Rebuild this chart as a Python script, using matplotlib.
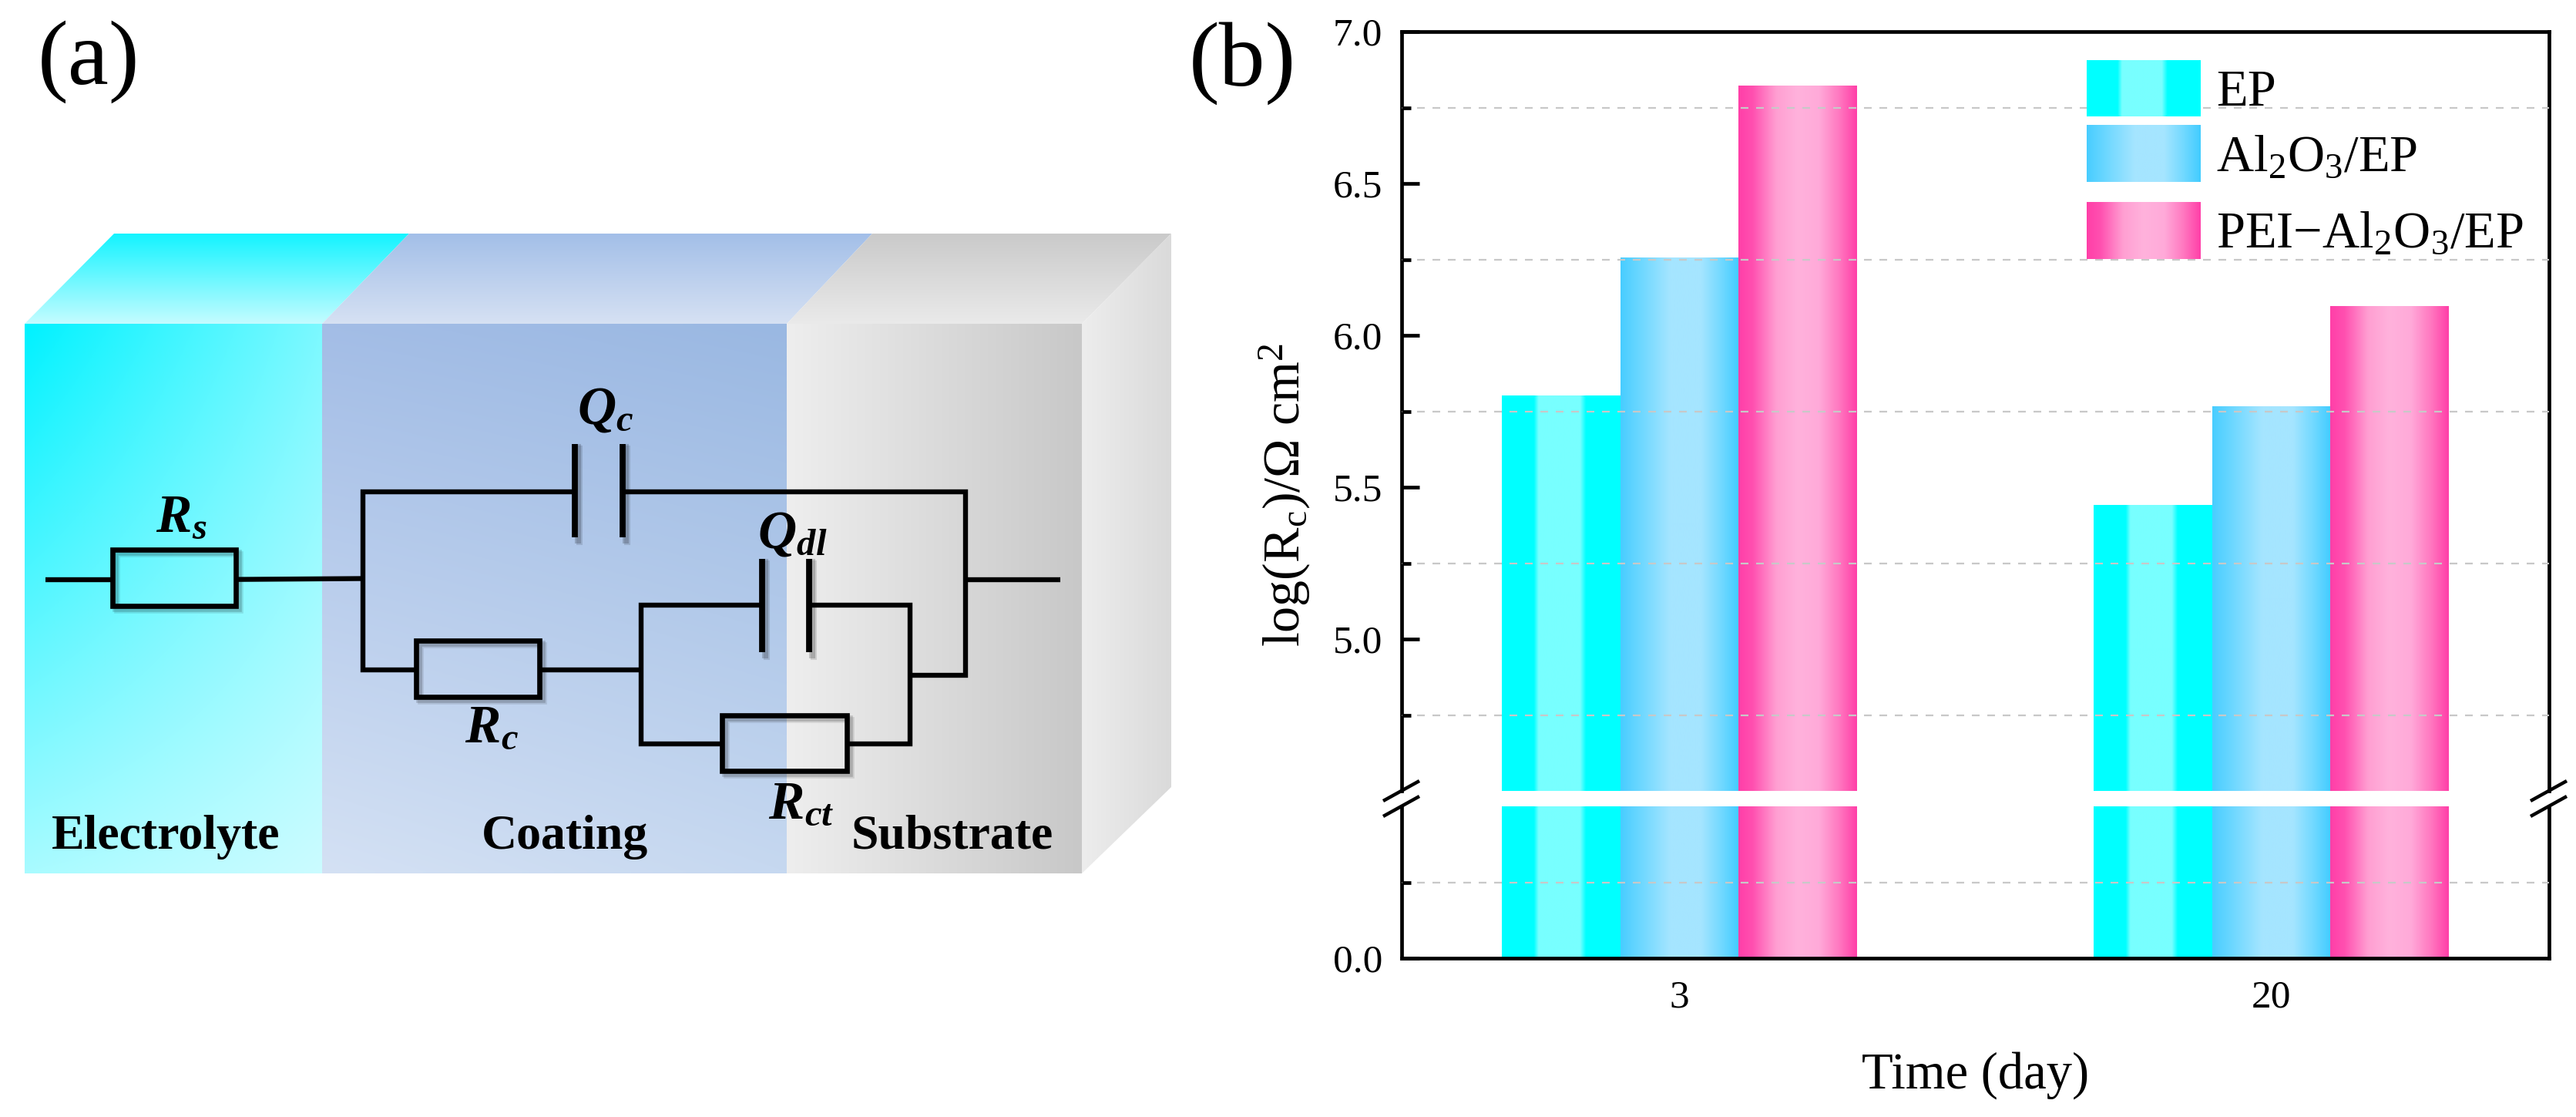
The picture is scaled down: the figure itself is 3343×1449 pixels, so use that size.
import numpy as np
import matplotlib
matplotlib.use('Agg')
import matplotlib.pyplot as plt
from matplotlib.patches import Polygon, Rectangle
from matplotlib.colors import LinearSegmentedColormap
from matplotlib.transforms import Affine2D
from matplotlib.ticker import FixedLocator

# ---------- data ----------
days = ['3', '20']
series = ['EP', r'Al$_2$O$_3$/EP', r'PEI$-$Al$_2$O$_3$/EP']
ep = [5.80, 5.44]
al2o3_ep = [6.255, 5.765]
pei_al2o3_ep = [6.82, 6.095]
major_upper = [5.0, 5.5, 6.0, 6.5, 7.0]
minor_upper = [4.75, 5.25, 5.75, 6.25, 6.75]
major_lower = [0.0]
minor_lower = [0.25]

W, H = 3343, 1449
plt.rcParams['font.family'] = ['Liberation Serif', 'DejaVu Serif']
plt.rcParams['mathtext.fontset'] = 'custom'
plt.rcParams['mathtext.rm'] = 'Liberation Serif'
plt.rcParams['mathtext.it'] = 'Liberation Serif:italic'
plt.rcParams['mathtext.bf'] = 'Liberation Serif:bold'
plt.rcParams['mathtext.bfit'] = 'Liberation Serif:italic:bold'
plt.rcParams['mathtext.default'] = 'regular'

fig = plt.figure(figsize=(W / 100, H / 100), dpi=100, facecolor='white')
PX = Affine2D().scale(1 / W, -1 / H).translate(0, 1) + fig.transFigure


def axes_px(l, t, r, b, **kw):
    return fig.add_axes([l / W, 1 - b / H, (r - l) / W, (b - t) / H], **kw)


# ---------- panel (a): schematic, in pixel coordinates ----------
sch = axes_px(0, 0, W, H, zorder=0)
sch.set_xlim(0, W)
sch.set_ylim(H, 0)
sch.axis('off')


def hexrgb(c):
    return np.array(matplotlib.colors.to_rgb(c))


def shade(poly, tl, tr, bl, br):
    """Polygon filled with a four-corner colour blend."""
    xs = [p[0] for p in poly]
    ys = [p[1] for p in poly]
    u, v = np.meshgrid(np.linspace(0, 1, 128), np.linspace(0, 1, 128))
    u, v = u[..., None], v[..., None]
    img = (hexrgb(tl) * (1 - u) * (1 - v) + hexrgb(tr) * u * (1 - v)
           + hexrgb(bl) * (1 - u) * v + hexrgb(br) * u * v)
    im = sch.imshow(img, extent=[min(xs), max(xs), max(ys), min(ys)],
                    aspect='auto', zorder=1, interpolation='bilinear')
    pg = Polygon(poly, closed=True, transform=sch.transData, fc='none', ec='none')
    sch.add_patch(pg)
    im.set_clip_path(pg)


x0, x1, x2, x3 = 32, 418, 1021, 1404
xb0, xb1, xb2, xb3 = 148, 531, 1132, 1520
yt, yb, yback, yback_b = 420, 1133, 303, 1021
shade([(x0, yt), (x1, yt), (x1, yb), (x0, yb)], '#00F2FF', '#7CF9FF', '#A8FBFF', '#CBFCFF')
shade([(x1, yt), (x2, yt), (x2, yb), (x1, yb)], '#A3BDE6', '#9AB8E2', '#D4E1F4', '#C6D8F0')
shade([(x2, yt), (x3, yt), (x3, yb), (x2, yb)], '#EEEEEE', '#C8C8C8', '#EEEEEE', '#C8C8C8')
shade([(x0, yt), (xb0, yback), (xb1, yback), (x1, yt)], '#14F4FF', '#14F4FF', '#C4FCFF', '#C4FCFF')
shade([(x1, yt), (xb1, yback), (xb2, yback), (x2, yt)], '#A3BFE8', '#A3BFE8', '#D6E1F3', '#D6E1F3')
shade([(x2, yt), (xb2, yback), (xb3, yback), (x3, yt)], '#CACACA', '#CACACA', '#EAEAEA', '#EAEAEA')
shade([(x3, yt), (xb3, yback), (xb3, yback_b), (x3, yb)], '#EDEDED', '#DADADA', '#EDEDED', '#DADADA')


def X(v):
    return v * 1550 / 1568


def Y(v):
    return 250 + v * 900 / 1568


wires = [
    [(60, 874), (148, 874)],
    [(310, 874), (476, 872)],
    [(755, 676), (476, 676), (476, 1078), (546, 1078)],
    [(817, 676), (1268, 676), (1268, 1090), (1195, 1090)],
    [(1268, 874), (1392, 874)],
    [(708, 1078), (842, 1078)],
    [(1000, 932), (842, 932), (842, 1245), (948, 1245)],
    [(1062, 932), (1195, 932), (1195, 1245), (1112, 1245)],
]
plates = [
    [(755, 568), (755, 778)], [(817, 568), (817, 778)],
    [(1000, 828), (1000, 1038)], [(1062, 828), (1062, 1038)],
]
resistors = [(148, 806, 310, 934), (546, 1013, 708, 1140), (948, 1181, 1112, 1306)]


def seg(points, lw, **kw):
    sch.plot([X(p[0]) for p in points], [Y(p[1]) for p in points], color=kw.pop('color', 'black'),
             lw=lw, solid_capstyle='butt', solid_joinstyle='miter', zorder=kw.pop('zorder', 4), **kw)


for p in plates:
    for off, a in ((6, .12), (4, .18)):
        sch.plot([X(q[0]) + off for q in p], [Y(q[1]) + off for q in p], color='black',
                 alpha=a, lw=5.8, zorder=3)
for r in resistors:
    l, t, rr, b = X(r[0]), Y(r[1]), X(r[2]), Y(r[3])
    for off, a in ((6, .10), (4, .16)):
        sch.add_patch(Rectangle((l + off, t + off), rr - l, b - t, fc='none', ec='black',
                                alpha=a, lw=5.5, zorder=3))
    sch.add_patch(Rectangle((l, t), rr - l, b - t, fc='none', ec='black', lw=4.8, zorder=4))
for w in wires:
    seg(w, 4.6)
for p in plates:
    seg(p, 5.6)

for (tx, ty, s) in [(238, 736, r'$\mathbfit{R}_{\mathbfit{s}}$'),
                    (795, 493, r'$\mathbfit{Q}_{\mathbfit{c}}$'),
                    (1040, 773, r'$\mathbfit{Q}_{\mathbfit{dl}}$'),
                    (645, 1212, r'$\mathbfit{R}_{\mathbfit{c}}$'),
                    (1052, 1385, r'$\mathbfit{R}_{\mathbfit{ct}}$')]:
    sch.text(X(tx), Y(ty), s, fontsize=50, ha='center', va='center', zorder=5)
for (tx, s) in [(218, 'Electrolyte'), (742, 'Coating'), (1250, 'Substrate')]:
    sch.text(X(tx), Y(1482), s, fontsize=46, fontweight='bold', ha='center', va='baseline', zorder=5)

fig.text(115, 80, '(a)', transform=PX, fontsize=86, ha='center', va='center')
fig.text(1612, 82, '(b)', transform=PX, fontsize=86, ha='center', va='center')

# ---------- panel (b): broken-axis bar chart ----------
LEFT, RIGHT, TOP, BOTTOM = 1819, 3308, 41, 1243
BREAK_T, BREAK_B = 1026, 1046
up = axes_px(LEFT, TOP, RIGHT, BREAK_T, zorder=2)
lo = axes_px(LEFT, BREAK_B, RIGHT, BOTTOM, zorder=2)

cmaps = [
    LinearSegmentedColormap.from_list('ep', [(0, '#00FFFF'), (.27, '#00FFFF'), (.31, '#78FFFF'), (.66, '#78FFFF'),
                                             (.71, '#00FFFF'), (1, '#00FFFF')]),
    LinearSegmentedColormap.from_list('al', [(0, '#48CDFF'), (.18, '#6FD8FF'), (.42, '#A5E5FF'), (.68, '#A5E5FF'),
                                             (.85, '#72D9FF'), (1, '#42CCFF')]),
    LinearSegmentedColormap.from_list('pei', [(0, '#FF3FA8'), (.12, '#FF50B0'), (.32, '#FF9FD2'), (.5, '#FFB2DC'),
                                              (.68, '#FFAAD9'), (.85, '#FF78C0'), (1, '#FF3FA8')]),
]
base = ['#00FFFF', '#80DDFF', '#FF80C4']
grad = np.linspace(0, 1, 256)[None, :]
values = [ep, al2o3_ep, pei_al2o3_ep]
positions = np.arange(len(days))
bar_w = 0.2

for ax, lim in ((up, (4.5, 7.0)), (lo, (0, 0.5))):
    for k, vals in enumerate(values):
        xs = positions + (k - 1) * bar_w
        bars = ax.bar(xs, vals, width=bar_w, color=base[k], linewidth=0, zorder=2)
        for rect in bars:
            xl, w, h = rect.get_x(), rect.get_width(), rect.get_height()
            ax.imshow(grad, extent=[xl, xl + w, lim[0], min(h, lim[1])], aspect='auto',
                      cmap=cmaps[k], zorder=2.5)
    ax.set_xlim(-0.47, 1.47)
    ax.set_ylim(*lim)
    ax.patch.set_alpha(0)
    for s in ax.spines.values():
        s.set_linewidth(3.4)
    ax.tick_params(axis='y', which='major', direction='in', length=16.5, width=3.4,
                   labelsize=37, pad=18)
    ax.tick_params(axis='y', which='minor', direction='in', length=8.5, width=3.4)
    ax.grid(True, axis='y', which='minor', color='#C8C8C8', lw=1.6, ls=(0, (4.5, 4.5)), zorder=3)
    ax.grid(False, axis='y', which='major')
    ax.set_axisbelow(False)

up.spines['bottom'].set_visible(False)
lo.spines['top'].set_visible(False)
up.set_yticks(major_upper)
up.yaxis.set_minor_locator(FixedLocator(minor_upper))
lo.set_yticks(major_lower)
lo.set_yticklabels(['0.0'])
lo.yaxis.set_minor_locator(FixedLocator(minor_lower))
up.set_xticks([])
lo.set_xticks(positions)
lo.set_xticklabels(days)
lo.tick_params(axis='x', length=0, labelsize=37, pad=20)
lo.set_xlabel('Time (day)', fontsize=48, labelpad=34)
up.set_ylabel(r'log(R$_c$)/Ω cm$^2$', fontsize=49)
up.yaxis.set_label_coords(1668 / W, 1 - 642 / H, transform=fig.transFigure)
up.yaxis.label.set_verticalalignment('center')

# axis-break marks on both side spines
for xc in (LEFT, RIGHT):
    for dy in (0, 20):
        up.plot([xc - 24, xc + 23], [1039 + dy, 1013 + dy], color='black', lw=3.2,
                transform=PX, clip_on=False, solid_capstyle='butt', zorder=6)

# legend swatches and labels
legend_rows = [(78, 151, 137), (162, 236, 222), (262, 336, 321)]
leg = axes_px(2708, 78, 2856, 336, zorder=3)
leg.axis('off')
for (t, b, base_y), cm, label in zip(legend_rows, cmaps, series):
    leg.imshow(grad, extent=[2708, 2856, b, t], aspect='auto', cmap=cm)
    fig.text(2876, base_y, label, transform=PX, fontsize=48, ha='left', va='baseline', zorder=5)
leg.set_xlim(2708, 2856)
leg.set_ylim(336, 78)

fig.savefig('out.png', dpi=100)
